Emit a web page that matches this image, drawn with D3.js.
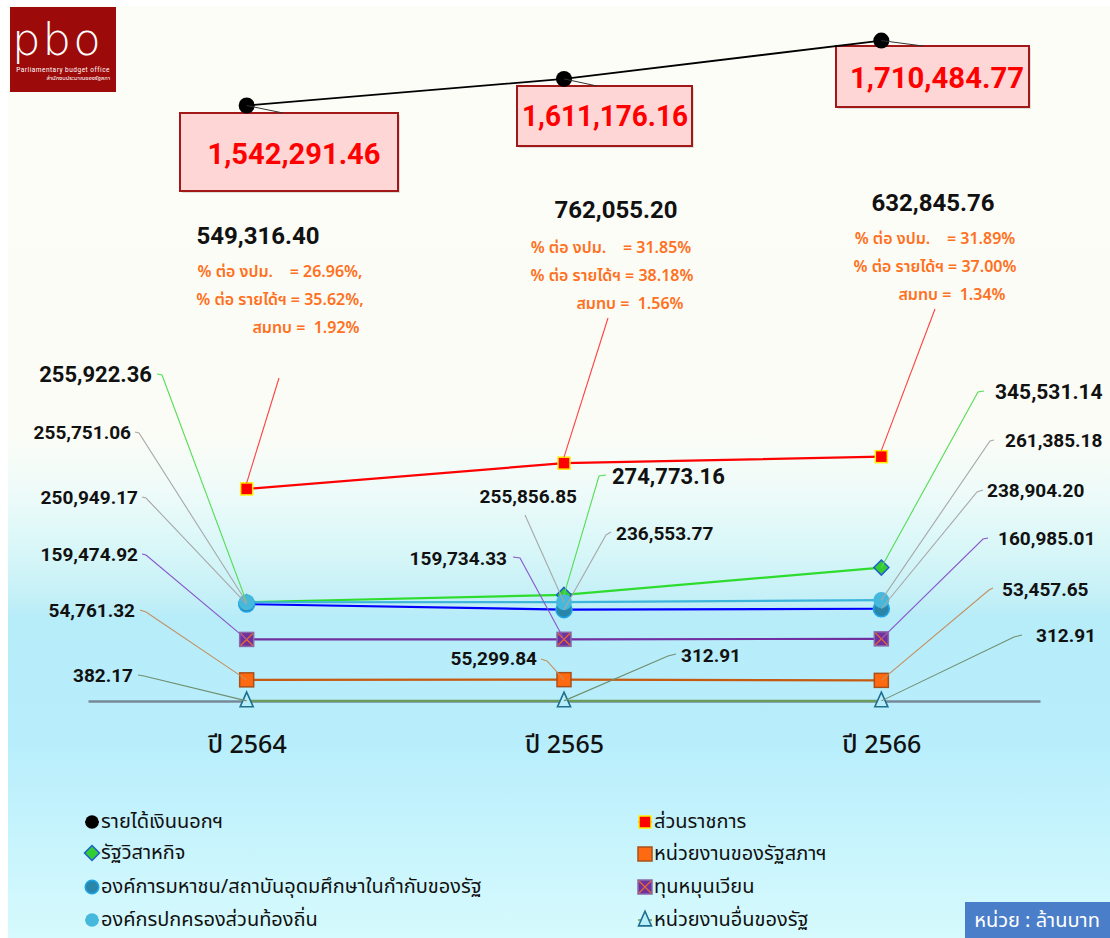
<!DOCTYPE html>
<html><head><meta charset="utf-8">
<script src="https://cdn.jsdelivr.net/npm/d3@7"></script>
<style>
html,body{margin:0;padding:0;background:#fff;}
svg{display:block;}
</style></head><body>
<svg id="chart" width="1110" height="938"></svg>
<script>
// ---------------- data ----------------
const years = ["ปี 2564", "ปี 2565", "ปี 2566"];
const extraBudgetIncome = [1542291.46, 1611176.16, 1710484.77];      // รายได้เงินนอกฯ
const govAgencies = [549316.40, 616000.00, 632845.76];                // ส่วนราชการ (2565 point as drawn in picture)
const govAgencyLabels = ["549,316.40", "762,055.20", "632,845.76"];
const pctOfBudget = ["26.96%,", "31.85%", "31.89%"];
const pctOfRevenue = ["35.62%,", "38.18%", "37.00%"];
const contribution = ["1.92%", "1.56%", "1.34%"];
const stateEnterprises = [255922.36, 274773.16, 345531.14];          // รัฐวิสาหกิจ
const publicOrgs = [250949.17, 236553.77, 238904.20];                // องค์การมหาชน/สถาบันอุดมศึกษาฯ
const localGov = [255751.06, 255856.85, 261385.18];                  // องค์กรปกครองส่วนท้องถิ่น
const revolvingFunds = [159474.92, 159734.33, 160985.01];            // ทุนหมุนเวียน
const parliamentUnits = [54761.32, 55299.84, 53457.65];              // หน่วยงานของรัฐสภาฯ
const otherStateUnits = [382.17, 312.91, 312.91];                    // หน่วยงานอื่นของรัฐ
const unitLabel = "หน่วย : ล้านบาท";

// ---------------- setup ----------------
const NUM = "Roboto, 'Noto Sans', sans-serif";
const THAI = "'Noto Sans Thai', 'Noto Sans Thai UI', 'Noto Sans', 'DejaVu Sans', sans-serif";
const fmt = d3.format(",.2f");
const svg = d3.select("#chart");
const defs = svg.append("defs");

const grad = defs.append("linearGradient").attr("id", "bg").attr("x1", 0).attr("x2", 0).attr("y1", 0).attr("y2", 1);
[[0, "#fdfdf8"], [0.46, "#fbfcf6"], [0.52, "#eefbf9"], [0.59, "#d6f6f8"], [0.64, "#c2eff7"], [0.655, "#b7ecf9"], [0.79, "#b8eefc"], [1, "#d6fafd"]]
  .forEach(([o, c]) => grad.append("stop").attr("offset", o).attr("stop-color", c));

svg.append("rect").attr("x", 8).attr("y", 6).attr("width", 1102).attr("height", 932).attr("fill", "url(#bg)");

const x = d3.scalePoint().domain(years).range([88, 1040]).padding(0.5);
const y = d3.scaleLinear().domain([0, 1800000]).range([701, 6]);

// ---------------- logo ----------------
const logo = svg.append("g");
logo.append("rect").attr("x", 10).attr("y", 7).attr("width", 106).attr("height", 85).attr("fill", "#9c0a0a");
logo.append("text").attr("x", 12).attr("y", 55).attr("fill", "#fff")
  .attr("font-family", "'DejaVu Sans', sans-serif").attr("font-weight", 200)
  .attr("font-size", 45).attr("letter-spacing", 2).text("pbo");
logo.append("text").attr("x", 110).attr("y", 71.5).attr("text-anchor", "end").attr("fill", "#fff")
  .attr("font-family", NUM).attr("font-size", 6.5).attr("letter-spacing", 0.5).text("Parliamentary budget office");
logo.append("text").attr("x", 110).attr("y", 80).attr("text-anchor", "end").attr("fill", "#fff")
  .attr("font-family", THAI).attr("font-size", 5.8).text("สำนักงบประมาณของรัฐสภา");

// ---------------- axis ----------------
const axisG = svg.append("g").attr("transform", "translate(0,701)")
  .call(d3.axisBottom(x).tickSize(0).tickPadding(0));
axisG.select(".domain").attr("stroke", "#778899").attr("stroke-width", 2.5);
axisG.selectAll(".tick text").attr("y", 43).attr("dy", "0.35em")
  .attr("font-family", THAI).attr("font-size", 25).attr("font-weight", 500).attr("fill", "#111");

// ---------------- series ----------------
const series = [
  { name: "หน่วยงานอื่นของรัฐ", values: otherStateUnits, line: "#6b9b5b", shape: "triangle", fill: "#b8eefa", stroke: "#1f6f8f", size: 13,
    leader: "#6f8f6f", labels: [
      { tx: 133, ty: 675, a: "end", fs: 19, pts: [[138, 675], [144, 676]] },
      { tx: 681, ty: 655, a: "start", fs: 19, pts: [[676, 654], [668, 656]] },
      { tx: 1036, ty: 635, a: "start", fs: 19, pts: [[1022, 635], [1014, 637]] }] },
  { name: "หน่วยงานของรัฐสภาฯ", values: parliamentUnits, line: "#c55a11", shape: "square", fill: "#ff6a10", stroke: "#a9501a", size: 14,
    leader: "#c49060", labels: [
      { tx: 135, ty: 610, a: "end", fs: 19, pts: [[140, 610], [146, 612]] },
      { tx: 537, ty: 658, a: "end", fs: 19, pts: [[541, 659], [547, 661]] },
      { tx: 1002, ty: 589, a: "start", fs: 19, pts: [[993, 588], [989, 590]] }] },
  { name: "ทุนหมุนเวียน", values: revolvingFunds, line: "#7030a0", shape: "squarex", fill: "#7030a0", stroke: "#8a6aa8", size: 14,
    leader: "#8855cc", labels: [
      { tx: 138, ty: 554, a: "end", fs: 19, pts: [[142, 554], [146, 555]] },
      { tx: 507, ty: 558, a: "end", fs: 19, pts: [[513, 557], [520, 558]] },
      { tx: 998, ty: 538, a: "start", fs: 19, pts: [[988, 538], [983, 539]] }] },
  { name: "รัฐวิสาหกิจ", values: stateEnterprises, line: "#2edc2e", shape: "diamond", fill: "#33cc33", stroke: "#1f5fcf", size: 10,
    leader: "#55dd55", labels: [
      { tx: 152, ty: 374, a: "end", fs: 22, pts: [[157, 374], [162, 375]] },
      { tx: 612, ty: 476, a: "start", fs: 22, pts: [[606, 475], [599, 476]] },
      { tx: 995, ty: 391, a: "start", fs: 21, pts: [[984, 391], [978, 392]] }] },
  { name: "องค์การมหาชน/สถาบันอุดมศึกษาในกำกับของรัฐ", values: publicOrgs, line: "#0000ff", shape: "circle", fill: "#2a86a8", stroke: "#1ea6e8", size: 8,
    leader: "#a8a8a8", labels: [
      { tx: 138, ty: 497, a: "end", fs: 19, pts: [[142, 497], [146, 498]] },
      { tx: 616, ty: 533, a: "start", fs: 19, pts: [[611, 532], [606, 535]] },
      { tx: 987, ty: 490, a: "start", fs: 19, pts: [[983, 490], [977, 492]] }] },
  { name: "องค์กรปกครองส่วนท้องถิ่น", values: localGov, line: "#3cb4dc", shape: "circle", fill: "#45b8dc", stroke: "none", size: 8,
    leader: "#a8a8a8", labels: [
      { tx: 131, ty: 432, a: "end", fs: 19, pts: [[135, 432], [139, 433]] },
      { tx: 577, ty: 496, a: "end", fs: 19, pts: [[525, 515]] },
      { tx: 1005, ty: 440, a: "start", fs: 19, pts: [[994, 440], [990, 441]] }] },
  { name: "ส่วนราชการ", values: govAgencies, line: "#ff0000", shape: "square", fill: "#ff0000", stroke: "#ffee00", size: 12,
    leader: "#ff3b3b", labels: null },
  { name: "รายได้เงินนอกฯ", values: extraBudgetIncome, line: "#000000", shape: "circle", fill: "#000", stroke: "none", size: 8,
    leader: "#444", labels: null }
];

function drawMarker(g, s, cx, cy, scale = 1) {
  const z = s.size * scale;
  if (s.shape === "circle") {
    g.append("circle").attr("cx", cx).attr("cy", cy).attr("r", z)
      .attr("fill", s.fill).attr("stroke", s.stroke).attr("stroke-width", s.stroke === "none" ? 0 : 1.5);
  } else if (s.shape === "square" || s.shape === "squarex") {
    g.append("rect").attr("x", cx - z / 2).attr("y", cy - z / 2).attr("width", z).attr("height", z)
      .attr("fill", s.fill).attr("stroke", s.stroke).attr("stroke-width", 1.5);
    if (s.shape === "squarex") {
      g.append("path").attr("d", `M${cx - z / 2 + 1},${cy - z / 2 + 1}L${cx + z / 2 - 1},${cy + z / 2 - 1}M${cx + z / 2 - 1},${cy - z / 2 + 1}L${cx - z / 2 + 1},${cy + z / 2 - 1}`)
        .attr("stroke", "#e86a2a").attr("stroke-width", 1.3);
    }
  } else if (s.shape === "diamond") {
    g.append("path").attr("d", `M${cx},${cy - z * 0.75}L${cx + z * 0.75},${cy}L${cx},${cy + z * 0.75}L${cx - z * 0.75},${cy}Z`)
      .attr("fill", s.fill).attr("stroke", s.stroke).attr("stroke-width", 1.5);
  } else if (s.shape === "triangle") {
    const h = z * 0.9;
    g.append("path").attr("d", `M${cx},${cy - h * 0.75}L${cx + z / 2},${cy + h * 0.5}L${cx - z / 2},${cy + h * 0.5}Z`)
      .attr("fill", s.fill).attr("stroke", s.stroke).attr("stroke-width", 1.6);
  }
}

// boxes for รายได้เงินนอกฯ (drawn below the markers)
const boxG = svg.append("g");
const boxes = [{ x: 180, y: 113, w: 218, h: 78, tx: 294, ty: 153, tl: 173 },
               { x: 517, y: 86, w: 175, h: 60, tx: 605, ty: 115, tl: 166 },
               { x: 836, y: 46, w: 193, h: 61, tx: 937, ty: 77, tl: 174 }];
extraBudgetIncome.forEach((v, i) => {
  const b = boxes[i];
  boxG.append("rect").attr("x", b.x + 2).attr("y", b.y + 2).attr("width", b.w).attr("height", b.h).attr("fill", "rgba(0,0,0,0.12)");
  boxG.append("rect").attr("x", b.x).attr("y", b.y).attr("width", b.w).attr("height", b.h)
    .attr("fill", "#ffd6d6").attr("stroke", "#a01818").attr("stroke-width", 2);
  boxG.append("text").attr("x", b.tx).attr("y", b.ty).attr("dy", "0.36em").attr("text-anchor", "middle")
    .attr("font-family", NUM).attr("font-weight", 700).attr("font-size", 30).attr("fill", "#ff0000")
    .attr("textLength", b.tl).attr("lengthAdjust", "spacingAndGlyphs")
    .text(fmt(v));
});

const lineGen = d3.line().x((d, i) => x(years[i])).y(d => y(d));
const linesG = svg.append("g");
series.forEach(s => {
  linesG.append("path").datum(s.values).attr("d", lineGen).attr("fill", "none")
    .attr("stroke", s.line).attr("stroke-width", s.line === "#000000" ? 1.8 : 2.2);
});

// markers
const markG = svg.append("g");
series.forEach(s => s.values.forEach((v, i) => drawMarker(markG, s, x(years[i]), y(v))));

// leader lines (on top of markers)
const leadG = svg.append("g");
series.forEach(s => {
  if (!s.labels) return;
  s.labels.forEach((l, i) => {
    const pts = l.pts.concat([[x(years[i]), y(s.values[i])]]);
    leadG.append("path").attr("d", d3.line()(pts)).attr("fill", "none")
      .attr("stroke", s.leader).attr("stroke-width", 1.1);
  });
});
// red leaders to info blocks
const redLeaderEnds = [[279, 378], [608, 318], [935, 309]];
govAgencies.forEach((v, i) => {
  leadG.append("path").attr("d", d3.line()([[x(years[i]), y(v) - 6], redLeaderEnds[i]]))
    .attr("stroke", "#ff4040").attr("stroke-width", 1.1).attr("fill", "none");
});
// black leaders to boxes
const blackLeaderEnds = [[283, 113], [597, 86], [923, 46]];
extraBudgetIncome.forEach((v, i) => {
  leadG.append("path").attr("d", d3.line()([[x(years[i]), y(v)], blackLeaderEnds[i]]))
    .attr("stroke", "#333").attr("stroke-width", 1).attr("fill", "none");
});

// series value labels
const labG = svg.append("g");
series.forEach(s => {
  if (!s.labels) return;
  s.labels.forEach((l, i) => {
    labG.append("text").attr("x", l.tx).attr("y", l.ty).attr("dy", "0.36em").attr("text-anchor", l.a)
      .attr("font-family", NUM).attr("font-weight", 700).attr("font-size", l.fs).attr("fill", "#111")
      .text(fmt(s.values[i]));
  });
});

// info blocks for ส่วนราชการ
const info = [
  { hx: 258, hy: 235, cx: [280, 280, 306], ly: [271, 299, 327] },
  { hx: 616, hy: 209, cx: [611, 612, 630], ly: [247, 275, 303] },
  { hx: 933, hy: 202, cx: [935, 935, 952], ly: [238, 266, 294] }
];
govAgencyLabels.forEach((lab, i) => {
  const p = info[i];
  labG.append("text").attr("x", p.hx).attr("y", p.hy).attr("dy", "0.36em").attr("text-anchor", "middle")
    .attr("font-family", NUM).attr("font-weight", 700).attr("font-size", 24).attr("fill", "#111").text(lab);
  const lines = [`% ต่อ งปม.    = ${pctOfBudget[i]}`, `% ต่อ รายได้ฯ = ${pctOfRevenue[i]}`, `สมทบ =  ${contribution[i]}`];
  lines.forEach((t, k) => {
    labG.append("text").attr("x", p.cx[k]).attr("y", p.ly[k]).attr("dy", "0.36em").attr("text-anchor", "middle")
      .attr("xml:space", "preserve").style("white-space", "pre")
      .attr("font-family", THAI).attr("font-weight", 600).attr("font-size", 16).attr("fill", "#ff7020").text(t);
  });
});

// ---------------- legend ----------------
const legendOrder = [
  ["รายได้เงินนอกฯ", 92, 822], ["รัฐวิสาหกิจ", 92, 853], ["องค์การมหาชน/สถาบันอุดมศึกษาในกำกับของรัฐ", 92, 887], ["องค์กรปกครองส่วนท้องถิ่น", 92, 920],
  ["ส่วนราชการ", 645, 822], ["หน่วยงานของรัฐสภาฯ", 645, 854], ["ทุนหมุนเวียน", 645, 887], ["หน่วยงานอื่นของรัฐ", 645, 920]
];
const legG = svg.append("g");
legendOrder.forEach(([name, lx, ly]) => {
  const s = series.find(d => d.name === name);
  legG.append("line").attr("x1", lx - 7).attr("x2", lx + 7).attr("y1", ly).attr("y2", ly).attr("stroke", s.line).attr("stroke-width", 1.5);
  drawMarker(legG, s, lx, ly, s.shape === "circle" ? 0.85 : 1);
  legG.append("text").attr("x", lx + 9).attr("y", ly).attr("dy", "0.3em")
    .attr("font-family", THAI).attr("font-size", 20).attr("fill", "#111").text(name);
});

// unit box
svg.append("rect").attr("x", 965).attr("y", 902).attr("width", 145).attr("height", 36).attr("fill", "#4a7ec8");
svg.append("text").attr("x", 1037).attr("y", 920).attr("dy", "0.35em").attr("text-anchor", "middle")
  .attr("font-family", THAI).attr("font-size", 20).attr("fill", "#fff").text(unitLabel);
</script>
</body></html>
